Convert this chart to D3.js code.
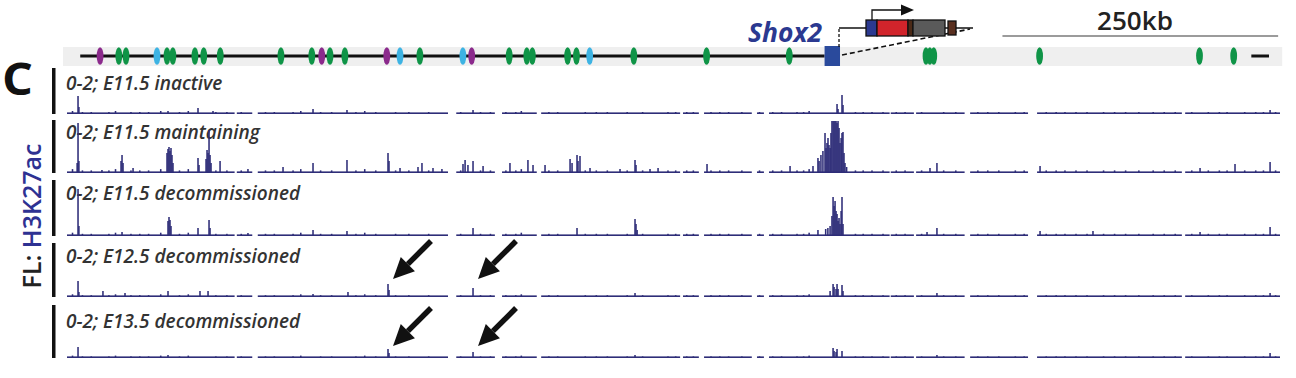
<!DOCTYPE html>
<html><head><meta charset="utf-8">
<script src="https://cdn.jsdelivr.net/npm/d3@7"></script>
<style>
body{margin:0;background:#fff;}
svg{display:block;font-family:"Open Sans",sans-serif;}
</style></head><body>
<svg id="chart" width="1296" height="378"></svg>
<script>
// genomic coordinates are kb from the left edge of the window
const trackNames = ["0-2; E11.5 inactive", "0-2; E11.5 maintaining", "0-2; E11.5 decommissioned",
  "0-2; E12.5 decommissioned", "0-2; E13.5 decommissioned"];

// covered stretches of the signal (gaps = unmappable)
const segments = [[0,152],[154,168],[173,345.5],[353,388],[394.5,426],[430,556],[558.6,573],[577.7,621],
  [625.7,632],[636.6,746],[747,768],[770,814],[819,871.5],[879.7,1011],[1014,1100]];

// regulatory elements on the locus line: [kb, class]
const elements = [[30,"p"],[47,"g"],[53.5,"g"],[81.6,"b"],[90.7,"g"],[96,"g"],[116,"g"],[124,"g"],[139,"g"],
  [194,"g"],[222,"g"],[231,"p"],[238.5,"g"],[252,"g"],[290,"p"],[302,"b"],[320,"g"],[359,"b"],[367,"p"],
  [401,"g"],[417,"g"],[422,"g"],[454,"g"],[462,"g"],[474,"b"],[514,"g"],[580,"g"],[655,"g"],
  [779,"g"],[782.5,"g"],[786,"g"],[882,"g"],[1027,"g"],[1058,"g"]];

const geneStart = 687, geneEnd = 701;

// H3K27ac peaks per track: [kb, signal]
const inactivePeaks = [[10,18],[10.8,7],[91.6,3],[118.8,6],[132.4,3],[223.1,5],[253.9,4],[368.2,4],
  [698.3,10],[699.2,5],[702.8,19],[703.7,9],[1091,4]];
const maintainingPeaks = [[9.2,10],[10,50],[10.8,12],[31.7,3],[49,12],[49.9,18],[50.8,10],[59.9,5],
  [90.7,20],[91.6,24],[92.5,26],[93.4,22],[94.3,25],[95.2,18],[96.1,10],[118.8,15],[119.7,8],
  [126.1,14],[127,23],[127.9,20],[128.8,43],[129.7,18],[130.6,10],[138.8,12],[164.1,4],[195.9,6],
  [223.1,10],[253.9,13],[291.1,20],[292,12],[302,5],[318.3,6],[321.9,10],[331.9,5],[340,4],
  [359.1,9],[361,13],[363.6,8],[368.2,12],[377.3,7],[401.7,10],[418,13],[422.6,8],[433.5,8],
  [456.2,14],[458,10],[462.5,18],[463.4,12],[465.2,17],[474.3,5],[501.5,4],[515.1,13],[516,8],
  [528.7,4],[536,5],[580.4,9],[655.7,7],[676.5,7],[681,15],[682,12],[683.7,18],[685.5,22],
  [687.4,40],[688.3,25],[689.2,30],[690.1,35],[691,28],[692,25],[692.8,40],[693.7,52],[694.7,52],
  [695.6,52],[696.5,52],[697.4,52],[698.3,50],[699.2,52],[700.1,45],[701,30],[702,35],[702.8,40],
  [703.7,41],[704.6,20],[705.5,10],[707,6],[782.6,5],[788.9,10],[882.4,7],[1027.5,5],[1059.2,9],[1091,11]];
const decomm115Peaks = [[10,47],[10.8,10],[49.9,4],[91.6,15],[92.5,19],[93.4,16],[94.3,10],[118.8,8],
  [128.8,16],[129.7,8],[164.1,3],[223.1,6],[253.9,5],[368.2,8],[462.5,8],[515.1,17],[516,12],[517,6],
  [681,6],[688,7],[690,8],[692,10],[693.7,20],[694.7,39],[695.6,30],[696.5,35],[697.4,25],[698.3,22],
  [699.2,15],[700.1,18],[701,12],[702,25],[702.8,39],[703.7,12],[779.9,4],[788.9,8],[882.4,5],
  [930.4,5],[1027.5,4],[1091,9]];
const decomm125Peaks = [[10,16],[10.8,5],[32.6,6],[52.6,4],[91.6,6],[120.6,6],[127.9,6],[223.1,3],
  [254.8,5],[291.1,13],[292,7],[368.2,9],[515.1,4],[692,6],[694.7,13],[695.6,10],[697.4,8],[698.3,13],
  [699.2,8],[702.8,12],[703.7,6],[788.9,4],[1091,4]];
const decomm135Peaks = [[10,11],[91.6,3],[291.1,9],[292,5],[368.2,6],[515.1,3],[694.7,10],[695.6,7],
  [697.4,6],[698.3,9],[702.8,7],[788.9,3],[1091,5]];
const trackPeaks = [inactivePeaks, maintainingPeaks, decomm115Peaks, decomm125Peaks, decomm135Peaks];

// low background bumps shared by all tracks: [kb, signal]
const bumps = [[5,3],[14,2],[22,2],[38,2],[44,3],[58,2],[66,2],[74,2],[85,3],[102,2],[110,3],[135,2],
  [145,2],[158,2],[180,2],[188,2],[205,2],[212,3],[230,2],[240,2],[262,2],[270,3],[280,2],[298,2],
  [310,2],[328,2],[357,2],[375,2],[384,2],[398,2],[407,2],[412,3],[437,2],[445,2],[470,2],[480,2],
  [490,2],[508,2],[522,2],[545,2],[552,2],[562,2],[568,2],[584,2],[592,2],[600,2],[612,2],[628,2],
  [640,2],[648,2],[662,2],[668,2],[673,3],[715,2],[722,2],[730,2],[740,2],[752,2],[760,2],[775,2],
  [795,2],[806,2],[826,2],[835,2],[845,2],[860,2],[868,2],[888,2],[897,2],[905,2],[915,2],[925,2],
  [940,2],[950,2],[960,2],[972,2],[985,2],[995,2],[1005,2],[1020,2],[1035,2],[1045,2],[1052,2],
  [1068,2],[1078,2],[1085,2],[1096,2]];
const bumpScale = [1, 1.3, 1.1, 0.9, 0.8];

// arrows: [track index, kb of pointed peak]
const arrows = [[3,291.1],[3,368.2],[4,291.1],[4,368.2]];

const scaleBarKb = 250;

// ---- layout ----
const svg = d3.select("#chart");
const x = d3.scaleLinear().domain([0, 1100]).range([67, 1280]);
const navy = "#2e2d78";
const tracks = [
  {top: 68, bottom: 114, labelY: 90},
  {top: 120, bottom: 173, labelY: 139},
  {top: 180, bottom: 236, labelY: 200},
  {top: 243, bottom: 297, labelY: 263},
  {top: 305, bottom: 358, labelY: 328}
];
const elemColor = {g: "#0f9447", p: "#8b2a8c", b: "#3db3e3"};
const lineY = 56;

// panel letter
svg.append("text").attr("x", 2).attr("y", 95)
  .attr("font-size", 44).attr("font-weight", 700).attr("fill", "#111")
  .attr("textLength", 31).attr("lengthAdjust", "spacingAndGlyphs").text("C");

// locus band
svg.append("rect").attr("x", x(-3.6)).attr("y", 47).attr("width", x(1102) - x(-3.6)).attr("height", 19)
  .attr("fill", "#efefef");
svg.append("line").attr("x1", x(12)).attr("x2", x(geneStart)).attr("y1", lineY).attr("y2", lineY)
  .attr("stroke", "#111").attr("stroke-width", 3);
svg.append("line").attr("x1", x(1074)).attr("x2", x(1090)).attr("y1", lineY).attr("y2", lineY)
  .attr("stroke", "#111").attr("stroke-width", 3);

svg.append("g").selectAll("ellipse").data(elements).enter().append("ellipse")
  .attr("cx", d => x(d[0])).attr("cy", lineY).attr("rx", 3.4).attr("ry", 8.8)
  .attr("fill", d => elemColor[d[1]]);

svg.append("rect").attr("x", x(geneStart)).attr("y", 46).attr("width", x(geneEnd) - x(geneStart))
  .attr("height", 20).attr("fill", "#2a4a9c");

svg.append("text").attr("x", 748).attr("y", 42)
  .attr("font-size", 26).attr("font-weight", 700).attr("font-style", "italic").attr("fill", "#2b3990")
  .attr("textLength", 74).attr("lengthAdjust", "spacingAndGlyphs").text("Shox2");

// zoomed gene model
const gm = svg.append("g").attr("stroke", "#111").attr("stroke-width", 1.3);
gm.append("path").attr("d", "M" + (x(geneEnd) - 1) + ",47 V28").attr("fill", "none").attr("stroke-dasharray", "3,2");
gm.append("path").attr("d", "M" + (x(geneEnd) + 2) + ",55 L970,29").attr("fill", "none").attr("stroke-dasharray", "5,3").attr("stroke-width", 1.6);
gm.append("line").attr("x1", x(geneEnd) - 1).attr("x2", 973).attr("y1", 28).attr("y2", 28);
gm.append("rect").attr("x", 866).attr("y", 20).attr("width", 11).attr("height", 16).attr("fill", "#2b3990");
gm.append("rect").attr("x", 877).attr("y", 20).attr("width", 31).attr("height", 16).attr("fill", "#d1242b");
gm.append("rect").attr("x", 908).attr("y", 20).attr("width", 5).attr("height", 16).attr("fill", "#4b2a17");
gm.append("rect").attr("x", 913).attr("y", 20).attr("width", 32).attr("height", 16).attr("fill", "#5a5a5a");
gm.append("rect").attr("x", 948).attr("y", 21).attr("width", 8).attr("height", 14).attr("fill", "#5a3020");
gm.append("path").attr("d", "M872,20 V10 H903").attr("fill", "none");
svg.append("path").attr("d", "M901,4.5 L914,10 L901,15.5 Z").attr("fill", "#111");

// scale bar
const sb0 = 1098.3 - scaleBarKb;
svg.append("line").attr("x1", x(sb0)).attr("x2", x(1098.3)).attr("y1", 36).attr("y2", 36)
  .attr("stroke", "#7a7a7a").attr("stroke-width", 1.6);
svg.append("text").attr("x", 1097).attr("y", 30)
  .attr("font-size", 25).attr("font-weight", 600).attr("fill", "#222")
  .attr("textLength", 76).attr("lengthAdjust", "spacingAndGlyphs").text(scaleBarKb + "kb");

// side title
const side = svg.append("text").attr("transform", "translate(41,216) rotate(-90)").attr("text-anchor", "middle")
  .attr("font-size", 25).attr("font-weight", 600);
side.append("tspan").attr("fill", "#222").text("FL: ");
side.append("tspan").attr("fill", "#2e3192").text("H3K27ac");

// tracks
const barW = x(1.4) - x(0);
tracks.forEach((t, i) => {
  const y = d3.scaleLinear().domain([0, 52]).range([t.bottom, t.bottom - 52]).clamp(true);
  const g = svg.append("g");
  g.append("rect").attr("x", 52).attr("y", t.top).attr("width", 3.5).attr("height", t.bottom - t.top)
    .attr("fill", "#111");
  g.append("text").attr("x", 66).attr("y", t.labelY).attr("font-size", 19).attr("font-weight", 600)
    .attr("font-style", "italic").attr("fill", "#333").text(trackNames[i]);
  // background signal
  g.selectAll("rect.seg").data(segments).enter().append("rect").attr("class", "seg")
    .attr("x", d => x(d[0])).attr("width", d => x(d[1]) - x(d[0]))
    .attr("y", y(1.6)).attr("height", y(0) - y(1.6)).attr("fill", navy);
  const inSeg = k => segments.some(s => k >= s[0] && k <= s[1]);
  const bars = bumps.map(b => [b[0], b[1] * bumpScale[i]]).concat(trackPeaks[i]).filter(d => inSeg(d[0]));
  g.selectAll("rect.pk").data(bars).enter().append("rect").attr("class", "pk")
    .attr("x", d => x(d[0]) - barW / 2).attr("width", barW)
    .attr("y", d => y(d[1])).attr("height", d => y(0) - y(d[1])).attr("fill", navy);
});

// arrows pointing at lost peaks
arrows.forEach(a => {
  const t = tracks[a[0]];
  const tipX = x(a[1]) + 5, tipY = t.bottom - (a[0] === 3 ? 18 : 12);
  const tailX = tipX + 38, tailY = tipY - 38;
  const ux = (tailX - tipX) / Math.hypot(38, 38), uy = (tailY - tipY) / Math.hypot(38, 38);
  const hl = 21, hw = 10;
  const bx = tipX + ux * hl, by = tipY + uy * hl;
  svg.append("line").attr("x1", bx).attr("y1", by).attr("x2", tailX).attr("y2", tailY)
    .attr("stroke", "#111").attr("stroke-width", 5.5);
  svg.append("path").attr("d", "M" + tipX + "," + tipY + " L" + (bx - uy * hw) + "," + (by + ux * hw)
    + " L" + (bx + uy * hw) + "," + (by - ux * hw) + " Z").attr("fill", "#111");
});
</script>
</body></html>
